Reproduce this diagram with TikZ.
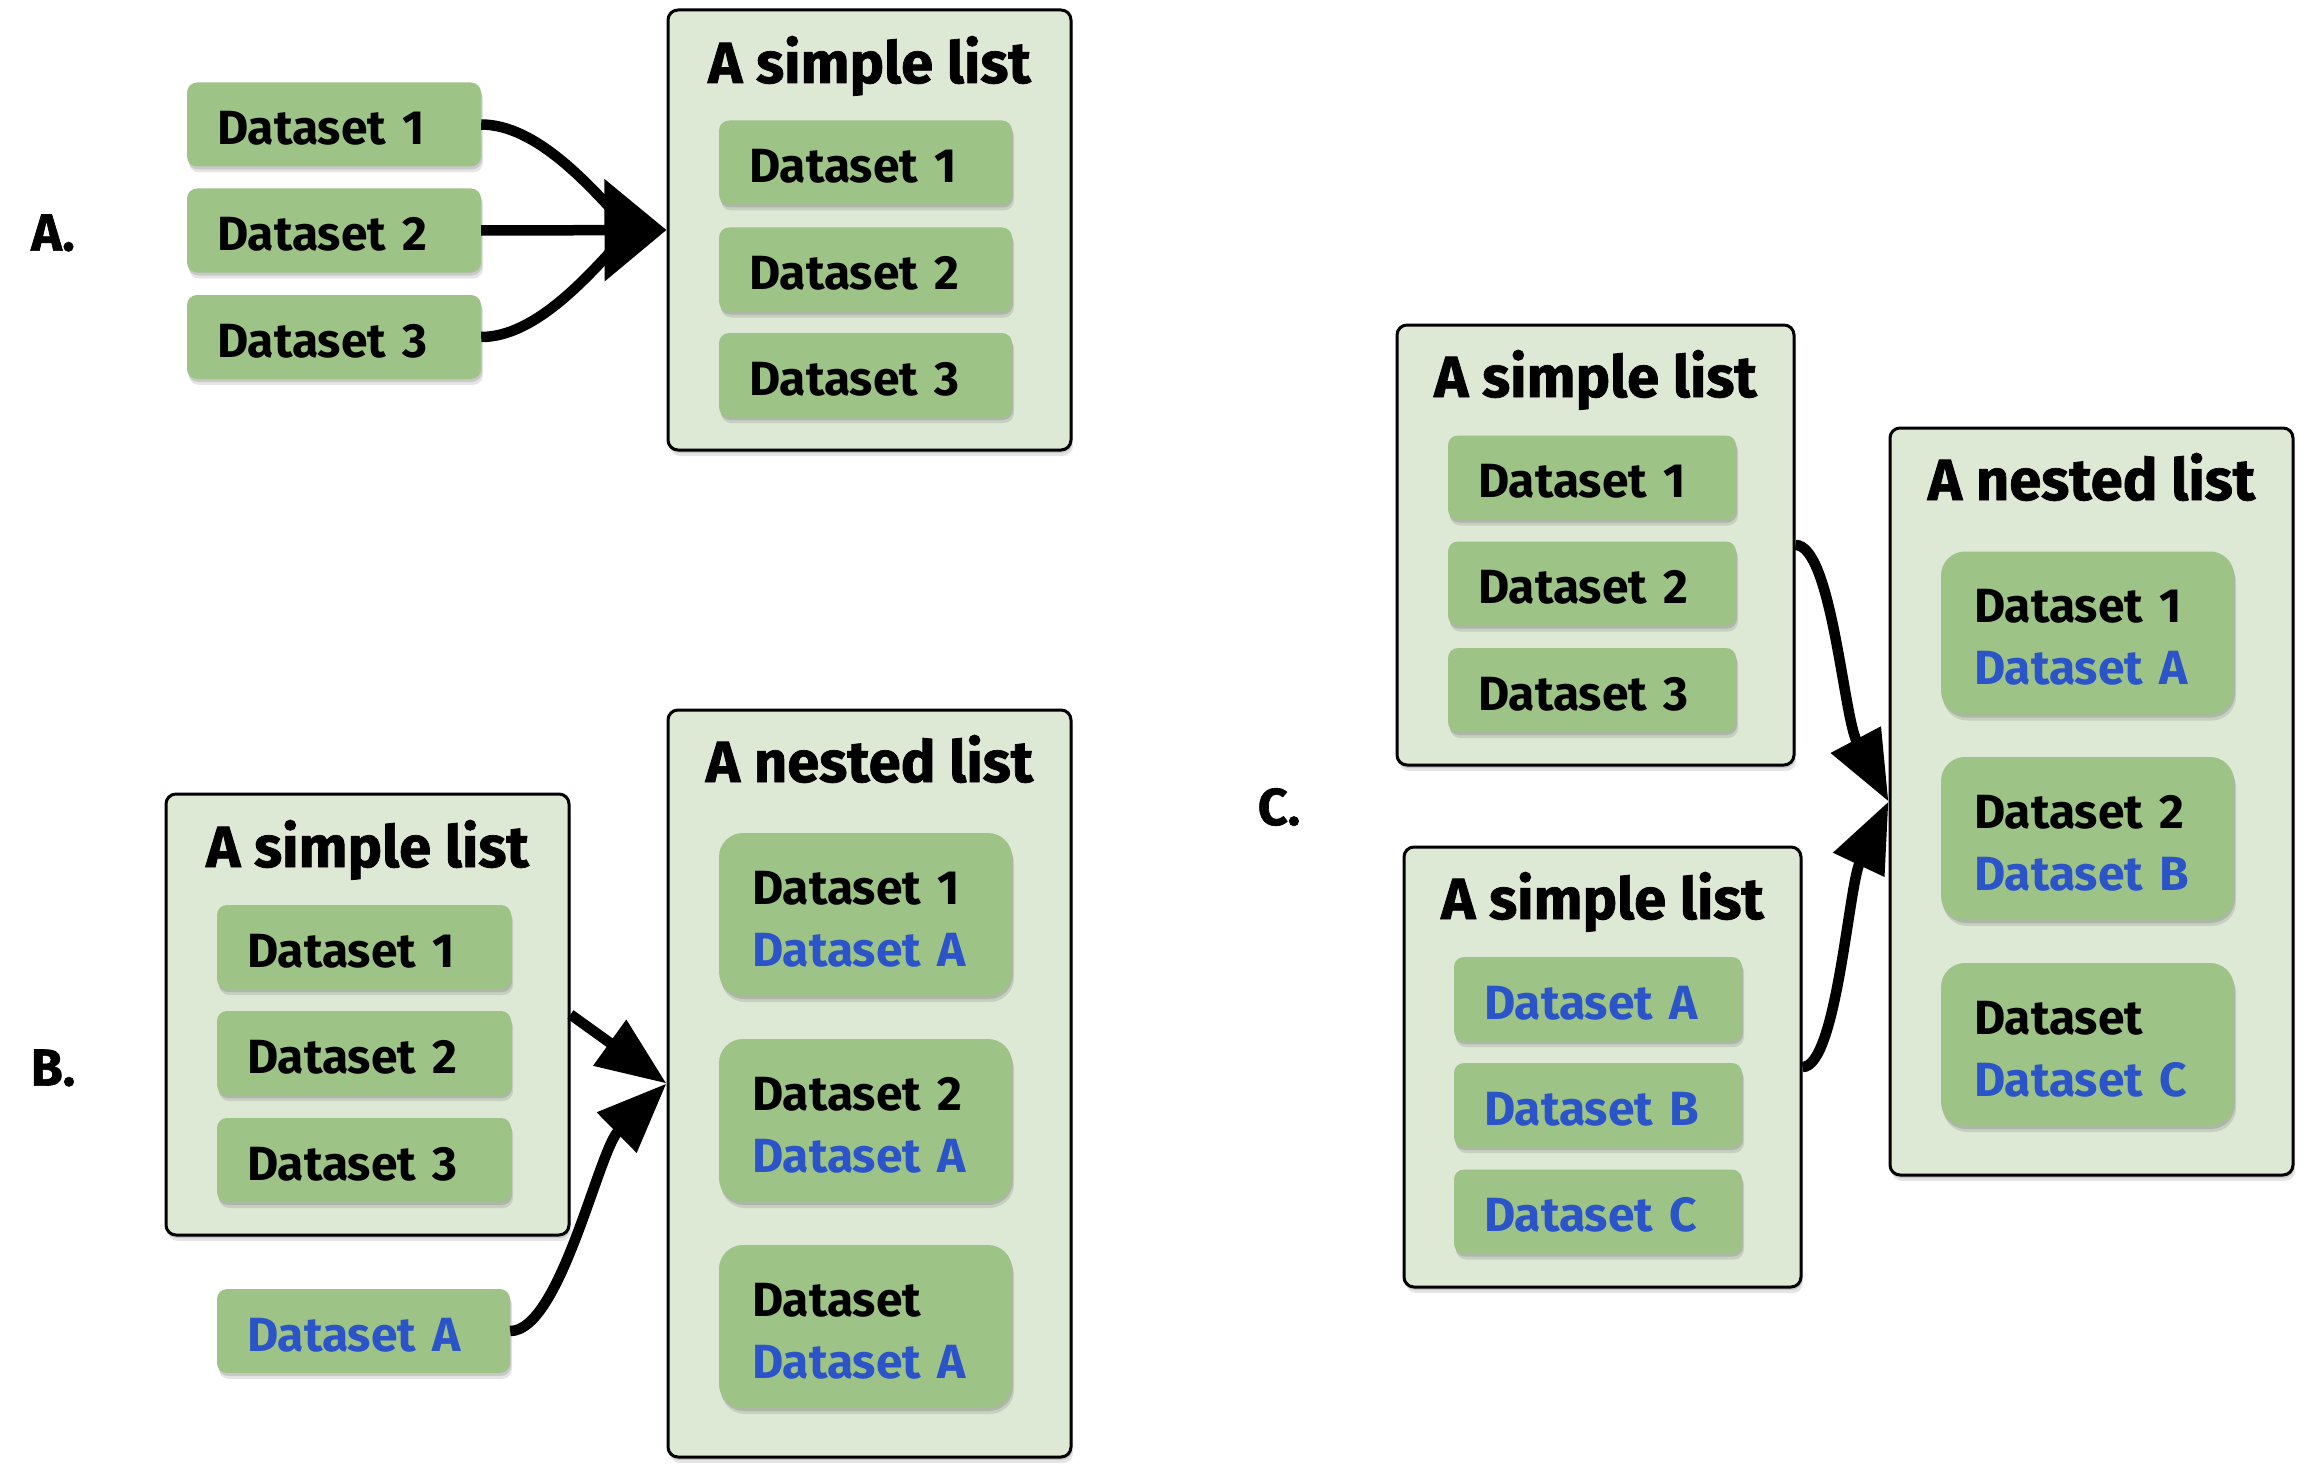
\documentclass[tikz,border=0pt]{standalone}
\usepackage{fontspec}
\setmainfont{Fira Sans}
\newfontfamily\heavyfam{Fira Sans}[BoldFeatures={FakeBold=1.2}]
\usetikzlibrary{arrows.meta,shadows}
\definecolor{outerfill}{RGB}{221,232,213}
\definecolor{innerfill}{RGB}{158,195,135}
\definecolor{dsblue}{RGB}{42,84,200}
\newcommand\itemfnt{\fontsize{48}{62}\selectfont\bfseries}
\newcommand\titlefnt{\heavyfam\fontsize{58}{70}\selectfont\bfseries}
\newcommand\labelfnt{\heavyfam\fontsize{52}{60}\selectfont\bfseries}
\newcommand\nstrut{\rule{0pt}{42pt}}
\begin{document}
\begin{tikzpicture}[x=1pt,y=-1pt,
  softshadow/.style={general shadow={shadow xshift=2pt,shadow yshift=-6pt,fill=black,opacity=.10},
                     general shadow={shadow xshift=1pt,shadow yshift=-3pt,fill=black,opacity=.12}},
  outerbox/.style={draw=black,line width=3pt,fill=outerfill,rounded corners=10pt,
                   minimum width=403pt,minimum height=#1,inner sep=0pt,softshadow},
  itembox/.style={fill=innerfill,rounded corners=10pt,minimum height=84pt,inner xsep=30pt,
                  inner ysep=0pt,text width=#1,align=left,font=\itemfnt,
                  text height=40pt,text depth=0pt,softshadow},
  nestbox/.style={fill=innerfill,rounded corners=24pt,minimum height=163pt,inner xsep=33pt,
                  inner ysep=0pt,text width=227pt,align=left,font=\itemfnt,softshadow},
  titletext/.style={anchor=base,font=\titlefnt,inner sep=0pt},
  lbl/.style={font=\labelfnt,inner sep=0pt},
  conn/.style={draw=black,line width=10.5pt},
  headtip/.style={-{Triangle[length=70pt,width=54pt]}},
  bighead/.style={-{Triangle[length=62pt,width=100pt]}}
]
\useasboundingbox (0,0) rectangle (2318,1474);

% ---------- A ----------
\node[lbl] (labA) at (53,233) {A.};
\node[itembox=234pt] (a1) at (334,124.5) {Dataset 1};
\node[itembox=234pt] (a2) at (334,230.5) {Dataset 2};
\node[itembox=234pt] (a3) at (334,337) {Dataset 3};
\node[outerbox=440pt] (bigA) at (869.5,230) {};
\node[titletext] (tA) at (869.5,83) {A simple list};
\node[itembox=233pt] (ai1) at (865.5,162.5) {Dataset 1};
\node[itembox=233pt] (ai2) at (865.5,269.5) {Dataset 2};
\node[itembox=233pt] (ai3) at (865.5,375) {Dataset 3};
\coordinate (aIn) at (630,230);
\draw[conn] (a1.east) .. controls +(55,0) and +(-40,-45) .. (aIn);
\draw[conn] (a3.east) .. controls +(55,0) and +(-40,45) .. (aIn);
\draw[conn,bighead] (a2.east) -- (bigA.west);

% ---------- B ----------
\node[lbl] (labB) at (53,1068) {B.};
\node[outerbox=441pt] (bS) at (367.5,1014.5) {};
\node[titletext] (tBS) at (367.5,867) {A simple list};
\node[itembox=234pt] (bs1) at (364,947) {Dataset 1};
\node[itembox=234pt] (bs2) at (364,1053) {Dataset 2};
\node[itembox=234pt] (bs3) at (364,1160) {Dataset 3};
\node[itembox=233pt] (dA) at (363.5,1331) {\textcolor{dsblue}{Dataset A}};
\node[outerbox=747pt] (bN) at (869.5,1083.5) {};
\node[titletext] (tBN) at (869.5,782) {A nested list};
\node[nestbox] (bn1) at (865.5,914.5) {\nstrut Dataset 1\\\textcolor{dsblue}{Dataset A}};
\node[nestbox] (bn2) at (865.5,1120.5) {\nstrut Dataset 2\\\textcolor{dsblue}{Dataset A}};
\node[nestbox] (bn3) at (865.5,1326.5) {\nstrut Dataset\\\textcolor{dsblue}{Dataset A}};
\draw[conn,headtip] (bS.east) -- (bN.west);
\draw[conn,headtip] (dA.east) .. controls +(50,0) and +(-68,67) .. (bN.west);

% ---------- C ----------
\node[lbl] (labC) at (1279,807) {C.};
\node[outerbox=440pt,minimum width=397pt] (cS1) at (1595.5,545) {};
\node[titletext] (tCS1) at (1595.5,397) {A simple list};
\node[itembox=228pt] (cs11) at (1592,477.5) {Dataset 1};
\node[itembox=228pt] (cs12) at (1592,583.5) {Dataset 2};
\node[itembox=228pt] (cs13) at (1592,690) {Dataset 3};
\node[outerbox=440pt,minimum width=397pt] (cS2) at (1602.5,1067) {};
\node[titletext] (tCS2) at (1602.5,919) {A simple list};
\node[itembox=228pt] (cs21) at (1598,999) {\textcolor{dsblue}{Dataset A}};
\node[itembox=228pt] (cs22) at (1598,1105) {\textcolor{dsblue}{Dataset B}};
\node[itembox=228pt] (cs23) at (1598,1211.5) {\textcolor{dsblue}{Dataset C}};
\node[outerbox=747pt] (cN) at (2091.5,801.5) {};
\node[titletext] (tCN) at (2091.5,500) {A nested list};
\node[nestbox] (cn1) at (2087.5,633) {\nstrut Dataset 1\\\textcolor{dsblue}{Dataset A}};
\node[nestbox] (cn2) at (2087.5,838.5) {\nstrut Dataset 2\\\textcolor{dsblue}{Dataset B}};
\node[nestbox] (cn3) at (2087.5,1044.5) {\nstrut Dataset\\\textcolor{dsblue}{Dataset C}};
\draw[conn,headtip] (cS1.east) .. controls +(36,0) and +(-45,-85) .. (cN.west);
\draw[conn,headtip] (cS2.east) .. controls +(34,0) and +(-40,85) .. (cN.west);
\end{tikzpicture}
\end{document}
